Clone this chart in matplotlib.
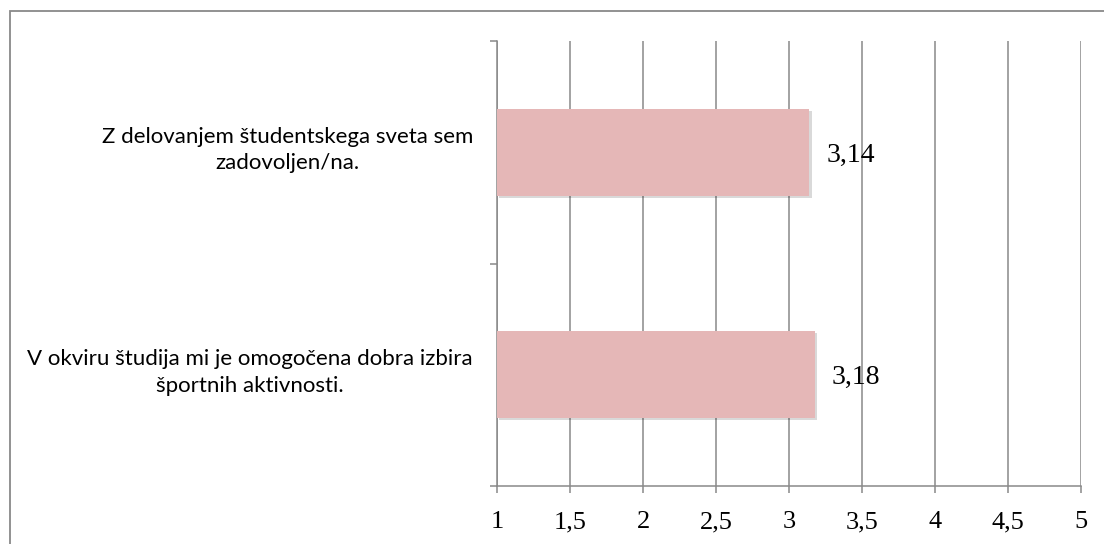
import matplotlib.pyplot as plt
import matplotlib.patheffects as pe
import matplotlib.transforms as mtransforms
from matplotlib.patches import Rectangle

# Podatki
categories = ["Z delovanjem študentskega sveta sem\nzadovoljen/na.",
              "V okviru študija mi je omogočena dobra izbira\nšportnih aktivnosti."]
values = [3.14, 3.18]
value_labels = ["3,14", "3,18"]
xticks = [1, 1.5, 2, 2.5, 3, 3.5, 4, 4.5, 5]
xtick_labels = ["1", "1,5", "2", "2,5", "3", "3,5", "4", "4,5", "5"]

grey = "#898989"
bar_color = "#e5b7b7"

fig = plt.figure(figsize=(11.04, 5.44), dpi=100)
ax = fig.add_axes([497 / 1104, 1 - 486 / 544, 584 / 1104, 445 / 544])

# okvir okoli grafa
fig.patches.append(Rectangle((10 / 1104, -0.2), 1.2, 1 - 11 / 544 + 0.2,
                             transform=fig.transFigure, fill=False,
                             edgecolor=grey, linewidth=1.3))

ypos = [0, 1]
bars = ax.barh(ypos, [v - 1 for v in values], left=1, height=0.39,
               color=bar_color, zorder=3)
for b in bars:
    b.set_path_effects([pe.SimplePatchShadow(offset=(1.5, -1.5), shadow_rgbFace="black", alpha=0.15),
                        pe.Normal()])

for y, v, lab in zip(ypos, values, value_labels):
    ax.annotate(lab, (v, y), xytext=(12, -2), textcoords="offset points",
                ha="left", va="center", fontsize=20, family="Liberation Serif")

# oznake kategorij (sredinska poravnava vrstic)
trans = mtransforms.blended_transform_factory(ax.transAxes, ax.transData)
for y, cat in zip(ypos, categories):
    ax.text(-24 / 584, y - 0.01, cat, transform=trans, ha="right", va="center",
            multialignment="center", linespacing=1.4, family="Lato", fontsize=16)

ax.set_xlim(1, 5)
ax.set_ylim(1.5, -0.5)
ax.set_xticks(xticks)
ax.set_xticklabels(xtick_labels, family="Liberation Serif", fontsize=19)
ax.set_yticks([-0.5, 0.5, 1.5])
ax.set_yticklabels([])
ax.tick_params(axis="y", length=5, width=1.1, color=grey)
ax.tick_params(axis="x", length=5, width=1.1, color=grey, pad=13)

ax.grid(axis="x", color=grey, linewidth=1.1, zorder=0)
ax.set_axisbelow(True)
for s in ["top", "right"]:
    ax.spines[s].set_visible(False)
for s in ["left", "bottom"]:
    ax.spines[s].set_color(grey)
    ax.spines[s].set_linewidth(1.1)

fig.savefig("out.png", dpi=100)
